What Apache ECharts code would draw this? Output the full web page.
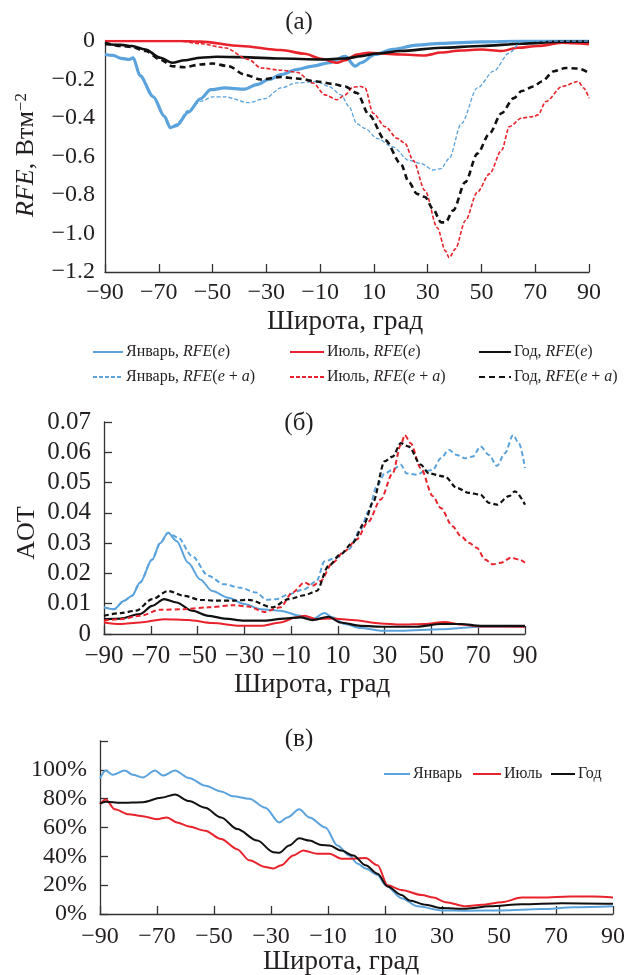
<!DOCTYPE html>
<html><head><meta charset="utf-8">
<script src="https://cdn.jsdelivr.net/npm/echarts@6/dist/echarts.min.js"></script>
<style>html,body{margin:0;padding:0;background:#fff}#c{width:628px;height:975px}</style>
</head><body><div id="c"></div><script>
// ---------- Data (latitude, value) ----------
const latTicks = [-90, -70, -50, -30, -10, 10, 30, 50, 70, 90];

// Panel (a): RFE, W m^-2
const janRFEe = [[-90,-0.07],[-87,-0.075],[-84,-0.09],[-81,-0.096],[-79.5,-0.087],[-77,-0.18],[-72,-0.29],[-68,-0.39],[-65.7,-0.45],[-63.4,-0.44],[-59,-0.37],[-54.5,-0.30],[-50.7,-0.253],[-45.5,-0.244],[-38,-0.25],[-33.6,-0.227],[-29,-0.20],[-24.6,-0.175],[-18.7,-0.148],[-12.7,-0.13],[-6.7,-0.113],[-0.7,-0.08],[3,-0.13],[5.2,-0.113],[10.4,-0.07],[17,-0.044],[26,-0.021],[35,-0.012],[50,-0.005],[65,0],[90,0]];
const julRFEe = [[-90,0],[-62,0],[-54.5,-0.003],[-39.5,-0.026],[-24.6,-0.047],[-15.7,-0.066],[-9.7,-0.092],[-3.7,-0.113],[-0.7,-0.1],[3.7,-0.07],[8.2,-0.061],[14.2,-0.066],[20,-0.07],[29,-0.075],[35,-0.06],[42.5,-0.049],[50,-0.044],[57.5,-0.052],[63.4,-0.035],[71,-0.026],[80,-0.009],[90,-0.017]];
const yearRFEe = [[-90,-0.017],[-84,-0.02],[-80,-0.026],[-75,-0.044],[-69.4,-0.087],[-65,-0.113],[-60.4,-0.1],[-54.5,-0.087],[-48.5,-0.082],[-39.5,-0.084],[-24.6,-0.091],[-9.7,-0.096],[-0.7,-0.091],[5.2,-0.079],[11.2,-0.065],[20,-0.052],[35,-0.035],[50,-0.026],[65,-0.014],[80,-0.003],[90,-0.003]];
const janRFEea = [[-90,-0.07],[-87,-0.075],[-84,-0.09],[-81,-0.096],[-79.5,-0.087],[-77,-0.18],[-72,-0.29],[-68,-0.39],[-65.7,-0.45],[-63.4,-0.43],[-59,-0.36],[-54.5,-0.314],[-50,-0.29],[-45.5,-0.29],[-36.6,-0.32],[-30.6,-0.30],[-24.6,-0.244],[-18.7,-0.218],[-11.2,-0.21],[-6.7,-0.236],[-2.2,-0.28],[0.7,-0.34],[3.7,-0.43],[6.7,-0.454],[11.2,-0.506],[17,-0.55],[23,-0.62],[27.6,-0.637],[32,-0.67],[35,-0.663],[38,-0.61],[42.5,-0.43],[48.5,-0.244],[54.5,-0.157],[60.4,-0.061],[65,0],[90,0]];
const julRFEea = [[-90,0],[-62,0],[-54.5,-0.014],[-45.5,-0.035],[-36.6,-0.096],[-32,-0.14],[-24.6,-0.152],[-18.7,-0.162],[-12.7,-0.218],[-8.2,-0.28],[-3.7,-0.305],[-0.7,-0.28],[2.2,-0.24],[5.2,-0.236],[6.7,-0.244],[9.7,-0.375],[14.2,-0.445],[18.7,-0.506],[21.6,-0.532],[24.6,-0.62],[29,-0.777],[33.6,-0.97],[36.6,-1.09],[38,-1.126],[40.3,-1.08],[44,-0.934],[48.5,-0.785],[53,-0.69],[57.5,-0.567],[60.4,-0.445],[65,-0.40],[69.4,-0.393],[71,-0.384],[74,-0.314],[80,-0.236],[86,-0.21],[88,-0.244],[90,-0.297]];
const yearRFEea = [[-90,-0.009],[-84,-0.026],[-80,-0.031],[-75,-0.052],[-69.4,-0.096],[-65,-0.131],[-60.4,-0.136],[-54.5,-0.122],[-50,-0.117],[-44,-0.131],[-38,-0.175],[-32,-0.20],[-24.6,-0.187],[-18.7,-0.195],[-11.2,-0.21],[-5.2,-0.223],[-0.7,-0.236],[3.7,-0.27],[8.2,-0.384],[14.2,-0.515],[20,-0.637],[23,-0.733],[26,-0.794],[29,-0.81],[32,-0.873],[35,-0.942],[36.6,-0.942],[39.5,-0.88],[44,-0.733],[48.5,-0.585],[53,-0.48],[57.5,-0.375],[62,-0.297],[65,-0.26],[69.4,-0.236],[72.4,-0.21],[77,-0.157],[81.3,-0.14],[86,-0.143],[90,-0.166]];

// Panel (б): AOT
const janAOTe = [[-90,0.0088],[-85.7,0.0082],[-81.4,0.011],[-78,0.0126],[-74.6,0.017],[-69.4,0.0246],[-66,0.030],[-62.6,0.0334],[-59,0.0307],[-54,0.0235],[-48.9,0.018],[-43.7,0.0142],[-36.9,0.012],[-30,0.0099],[-23,0.0082],[-14.6,0.0077],[-6,0.006],[-0.9,0.0049],[4.3,0.0069],[7.7,0.0055],[12.9,0.0033],[19.7,0.002],[28.3,0.0011],[36.9,0.0011],[54,0.0016],[71,0.0024],[90,0.0024]];
const janAOTea = [[-90,0.0088],[-85.7,0.0082],[-81.4,0.011],[-78,0.0126],[-74.6,0.017],[-69.4,0.0246],[-66,0.030],[-62.6,0.0334],[-58.3,0.0318],[-52.3,0.0257],[-45.4,0.0192],[-38.6,0.0164],[-31.7,0.0153],[-24.9,0.0137],[-20.6,0.0113],[-16.3,0.0115],[-11.1,0.0131],[-4.3,0.0148],[0.9,0.0175],[4.3,0.024],[9.4,0.0252],[14.6,0.028],[19.7,0.0345],[23.1,0.0405],[26.6,0.0487],[30,0.053],[33.4,0.0542],[36.9,0.0559],[39.4,0.053],[43.7,0.0526],[47,0.0537],[50.6,0.0542],[54,0.058],[57.4,0.0608],[60.9,0.0591],[64.3,0.058],[67.7,0.0586],[71,0.0619],[74.6,0.0591],[78,0.0555],[81.4,0.0597],[84.9,0.0657],[87.4,0.063],[90,0.0548]];
const julAOTe = [[-90,0.0038],[-83,0.0033],[-74.6,0.0038],[-64.3,0.0049],[-54,0.0046],[-43.7,0.0036],[-31.7,0.0027],[-23,0.0027],[-14.6,0.0038],[-7.7,0.0055],[-4.3,0.006],[0.9,0.0049],[7.7,0.0051],[16.3,0.0046],[28.3,0.0035],[36.9,0.0031],[47,0.0033],[55.7,0.004],[62.6,0.0031],[71,0.0025],[90,0.0024]];
const julAOTea = [[-90,0.0044],[-83,0.0049],[-74.6,0.006],[-66,0.008],[-55.7,0.0082],[-45.4,0.0088],[-35,0.0095],[-28.3,0.0091],[-21.4,0.0073],[-14.6,0.0088],[-9.4,0.0137],[-4.3,0.017],[-0.9,0.0159],[2.6,0.0175],[7.7,0.0235],[12.9,0.0274],[18,0.0312],[23.1,0.0372],[28.3,0.0444],[33.4,0.053],[36.9,0.0624],[38.6,0.0657],[41.1,0.063],[45.4,0.0548],[50.6,0.0455],[54,0.0416],[59,0.0356],[62.6,0.0323],[66,0.0301],[69.4,0.0285],[72.9,0.0246],[76.3,0.023],[79.7,0.0235],[84,0.0252],[87.4,0.0246],[90,0.0235]];
const yearAOTe = [[-90,0.0049],[-83,0.0051],[-74.6,0.0066],[-69.4,0.0093],[-64.3,0.0115],[-59,0.0104],[-52.3,0.0077],[-45.4,0.006],[-38.6,0.0051],[-30,0.0044],[-21.4,0.0044],[-12.9,0.0051],[-6,0.0055],[-0.9,0.0046],[6,0.0057],[11.1,0.0038],[19.7,0.0027],[30,0.0024],[43.7,0.0024],[54,0.0033],[62.6,0.0033],[71,0.0027],[90,0.0027]];
const yearAOTea = [[-90,0.006],[-83,0.0069],[-76.3,0.0077],[-69.4,0.0115],[-62.6,0.0142],[-55.7,0.0126],[-48.9,0.0113],[-42,0.011],[-35,0.011],[-28.3,0.0113],[-18,0.0088],[-11.1,0.0115],[-4.3,0.0128],[0.9,0.0142],[6,0.0225],[11.1,0.0263],[16.3,0.0301],[21.4,0.0367],[24.9,0.0433],[30,0.057],[33.4,0.0586],[36.9,0.063],[40.3,0.0619],[45.4,0.0559],[48.9,0.053],[55.7,0.052],[60.9,0.0482],[66,0.0466],[71,0.046],[74.6,0.0433],[78,0.0427],[83.1,0.0455],[85.7,0.0471],[90,0.0427]];

// Panel (в): percent
const janPct = [[-90,94],[-88,99.5],[-85.5,96.6],[-81.3,99.5],[-78.5,96.6],[-75,94.7],[-70.7,99.5],[-67.9,96],[-63.7,99.5],[-58.8,94.3],[-53,89],[-47.5,85],[-43.3,81.7],[-37.6,80],[-32,73.7],[-27.1,63.5],[-24.3,66.9],[-20.1,72.6],[-16.5,66.9],[-10.9,60],[-6.7,47.5],[-2.5,40.6],[0.3,35],[3.2,31.5],[7.4,27],[10.2,20],[15.8,11],[21.5,5.3],[29.9,2.5],[38.4,2.3],[51,2.5],[65,3.4],[76.3,4.6],[90,5.3]];
const julPct = [[-90,76],[-88,79.5],[-84.8,72.6],[-79.9,69.2],[-75.6,68],[-70,65.8],[-66.5,67],[-63,63.5],[-58.8,60.7],[-53.1,57.8],[-47.5,52],[-41.9,45],[-37.6,37.2],[-32,32.6],[-29.2,31.5],[-26.4,33.8],[-22.2,40.6],[-18.7,44],[-13.7,41.8],[-9.5,41.8],[-5.3,38.4],[-1.1,38.4],[3.2,38.8],[7.4,33.8],[10.9,20],[15.8,16.7],[22.9,13.2],[27,11.4],[31.3,8.2],[38.4,5.3],[44,6.4],[51,8.2],[58,11.4],[65,11.4],[74.9,12.1],[83.4,12.1],[90,11.4]];
const yearPct = [[-90,76.5],[-88,77.9],[-82.7,77.2],[-75,77.6],[-68.6,80.6],[-63.7,82.9],[-58.8,78.3],[-53.1,73.7],[-47.5,66.9],[-41.9,58.9],[-34.8,50.9],[-29.2,42.9],[-27.1,42.5],[-23.6,47.5],[-20.1,52.5],[-16.5,50.9],[-12.3,47.9],[-9.5,47.5],[-5.3,44],[-1.1,40.6],[3.2,33.8],[7.4,28],[10.9,19],[15.8,13.2],[18.6,9.4],[24.3,6.4],[29.9,4.1],[38.4,3.7],[46.8,5.3],[58,6.8],[72.1,7.5],[90,7.1]];

// ---------- Styling ----------
const FONT = '"Liberation Serif", "Times New Roman", serif';
const TXT = '#231f20';
const BLUE = '#5ba3dc', RED = '#e8232b', BLACK = '#111111';
const AX = {color: '#333', width: 1.3};
const minus = v => (v < 0 ? '\u2212' + Math.abs(v) : String(v));

function xAx(gridIndex, fs, margin) {
  return {
    type: 'value', gridIndex, min: -90, max: 90, interval: 20,
    axisLine: {show: true, onZero: false, lineStyle: AX},
    axisTick: {show: true, inside: true, length: 8, lineStyle: AX},
    splitLine: {show: false},
    axisLabel: {fontFamily: FONT, fontSize: fs, color: TXT, margin,
      formatter: v => latTicks.includes(v) ? minus(v) : ''}
  };
}

function ser(name, data, xi, color, width, dash) {
  return {
    name, type: 'line', data, xAxisIndex: xi, yAxisIndex: xi,
    showSymbol: false, symbol: 'none', smooth: 0.3, smoothMonotone: 'x',
    lineStyle: {color, width, type: dash || 'solid', cap: 'butt'},
    itemStyle: {color}, z: dash ? 3 : 2
  };
}

function legRich(fs) {
  return {
    n: {fontFamily: FONT, fontSize: fs, color: TXT},
    i: {fontFamily: FONT, fontSize: fs, color: TXT, fontStyle: 'italic'}
  };
}
function legFmt(name) {
  const m = name.split(',')[0];
  if (name.indexOf('e + a') >= 0) return '{n|' + m + ', }{i|RFE}{n|(}{i|e}{n| + }{i|a}{n|)}';
  if (name.indexOf('RFE') >= 0) return '{n|' + m + ', }{i|RFE}{n|(}{i|e}{n|)}';
  return '{n|' + m + '}';
}
function leg(name, left, top, w, fs) {
  return {
    data: [name], left, top, itemWidth: w, itemHeight: 12, itemGap: 0, padding: 0,
    selectedMode: false, formatter: legFmt,
    itemStyle: {opacity: 0},
    textStyle: {rich: legRich(fs), fontFamily: FONT, fontSize: fs, color: TXT, padding: [0, 0, 0, -2]}
  };
}

const gtext = (text, x, y, fs, extra) => Object.assign({
  type: 'text', x, y,
  style: Object.assign({text, fontFamily: FONT, fontSize: fs, fill: TXT, align: 'center', verticalAlign: 'middle'}, (extra && extra.style) || {})
}, extra && extra.rotation ? {rotation: extra.rotation} : {});

const option = {
  animation: false,
  backgroundColor: '#fff',
  grid: [
    {left: 105, top: 41, width: 484, height: 231},
    {left: 104, top: 422, width: 421, height: 212},
    {left: 100, top: 741, width: 513, height: 173}
  ],
  xAxis: [xAx(0, 24, 9), xAx(1, 25, 10), xAx(2, 24, 11)],
  yAxis: [
    {type: 'value', gridIndex: 0, min: -1.2, max: 0, interval: 0.2,
      axisLine: {show: true, onZero: false, lineStyle: AX}, axisTick: {show: false}, splitLine: {show: false},
      axisLabel: {fontFamily: FONT, fontSize: 24, color: TXT, margin: 10,
        formatter: v => Math.abs(v) < 1e-9 ? '0' : '\u2212' + Math.abs(v).toFixed(1)}},
    {type: 'value', gridIndex: 1, min: 0, max: 0.07, interval: 0.01,
      axisLine: {show: true, onZero: false, lineStyle: AX}, axisTick: {show: true, inside: true, length: 8, lineStyle: AX}, splitLine: {show: false},
      axisLabel: {fontFamily: FONT, fontSize: 25, color: TXT, margin: 13,
        formatter: v => Math.abs(v) < 1e-9 ? '0' : v.toFixed(2)}},
    {type: 'value', gridIndex: 2, min: 0, max: 120, interval: 20,
      axisLine: {show: true, onZero: false, lineStyle: AX}, axisTick: {show: true, inside: true, length: 8, lineStyle: AX}, splitLine: {show: false},
      axisLabel: {fontFamily: FONT, fontSize: 24, color: TXT, margin: 13,
        formatter: v => v >= 119 ? '' : Math.round(v) + '%'}}
  ],
  legend: [
    leg('Январь, RFE(e)', 92, 344, 30, 16),
    leg('Июль, RFE(e)', 289, 344, 34, 16),
    leg('Год, RFE(e)', 478, 344, 32, 16),
    leg('Январь, RFE(e + a)', 92, 369, 30, 16),
    leg('Июль, RFE(e + a)', 289, 369, 34, 16),
    leg('Год, RFE(e + a)', 478, 369, 32, 16),
    leg('Январь', 383, 766, 26, 16),
    leg('Июль', 472, 766, 28, 16),
    leg('Год', 550, 766, 24, 16)
  ],
  series: [
    ser('Январь, RFE(e + a)', janRFEea, 0, BLUE, 1.3, [4, 2]),
    ser('Июль, RFE(e + a)', julRFEea, 0, RED, 1.6, [4, 2]),
    ser('Год, RFE(e + a)', yearRFEea, 0, BLACK, 2.6, [6, 4]),
    ser('Январь, RFE(e)', janRFEe, 0, BLUE, 3.2),
    ser('Июль, RFE(e)', julRFEe, 0, RED, 2.6),
    ser('Год, RFE(e)', yearRFEe, 0, BLACK, 2.6),

    ser('Январь, AOT(e + a)', janAOTea, 1, BLUE, 2, [5, 3]),
    ser('Июль, AOT(e + a)', julAOTea, 1, RED, 2, [5, 3]),
    ser('Год, AOT(e + a)', yearAOTea, 1, BLACK, 2.2, [5, 3]),
    ser('Январь, AOT(e)', janAOTe, 1, BLUE, 2),
    ser('Июль, AOT(e)', julAOTe, 1, RED, 2),
    ser('Год, AOT(e)', yearAOTe, 1, BLACK, 2.2),

    ser('Январь', janPct, 2, BLUE, 2),
    ser('Июль', julPct, 2, RED, 2),
    ser('Год', yearPct, 2, BLACK, 2)
  ],
  graphic: [
    gtext('(a)', 299, 22, 25),
    gtext('(б)', 299, 423, 25),
    gtext('(в)', 299, 739, 25),
    gtext('Широта, град', 345, 322, 27),
    gtext('Широта, град', 312, 685, 27),
    gtext('Широта, град', 341, 962, 27),
    gtext('AOT', 27, 533, 26, {rotation: Math.PI / 2}),
    gtext('{i|RFE}{n|, Втм}{s|\u22122}', 26, 155, 26, {rotation: Math.PI / 2, style: {
      rich: {
        i: {fontFamily: FONT, fontSize: 26, fontStyle: 'italic', fill: TXT, color: TXT},
        n: {fontFamily: FONT, fontSize: 26, fill: TXT, color: TXT},
        s: {fontFamily: FONT, fontSize: 17, fill: TXT, color: TXT, verticalAlign: 'top'}
      }}})
  ]
};

const chart = echarts.init(document.getElementById('c'), null, {renderer: 'canvas'});
chart.setOption(option);
</script></body></html>
